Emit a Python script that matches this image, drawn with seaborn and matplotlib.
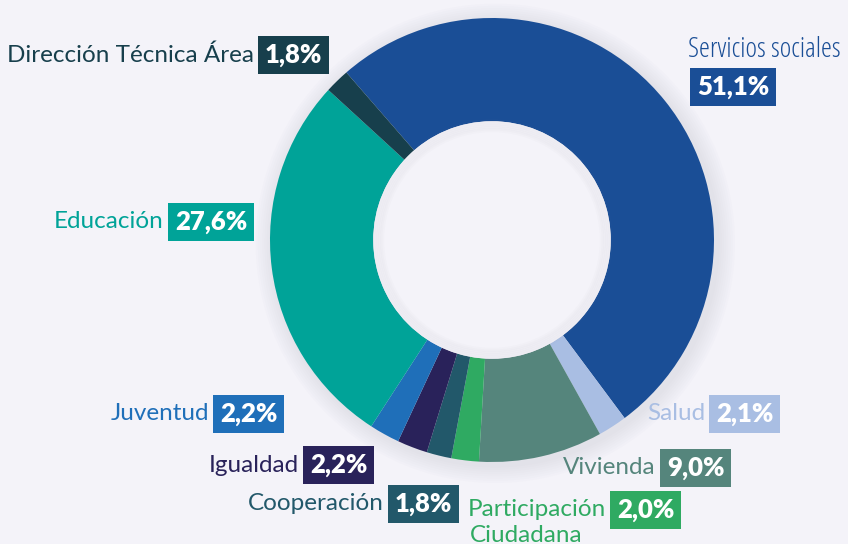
import numpy as np
import matplotlib.pyplot as plt
import seaborn as sns
from matplotlib.patches import Circle

sns.set_theme(style="white")
plt.rcParams["font.family"] = ["Lato", "DejaVu Sans"]

# datos (orden horario desde Servicios sociales)
areas = ["Servicios sociales", "Salud", "Vivienda", "Participación\nCiudadana",
         "Cooperación", "Igualdad", "Juventud", "Educación", "Dirección Técnica Área"]
shares = [51.1, 2.1, 9.0, 2.0, 1.8, 2.2, 2.2, 27.6, 1.8]
pct_labels = ["51,1%", "2,1%", "9,0%", "2,0%", "1,8%", "2,2%", "2,2%", "27,6%", "1,8%"]
colors = ["#1a4e96", "#a9bee3", "#55857c", "#2faa62", "#22586a",
          "#29225a", "#1f6fb9", "#00a398", "#173f4c"]

# posiciones de etiquetas en pixeles: (borde izq. de la caja, y centro)
label_pos = [(690, 87), (709, 414), (660, 468), (610, 510),
             (388, 504), (303, 465), (213, 414), (168, 222), (258, 55)]

W, H = 848, 544
bg = "#f4f3f9"
fig = plt.figure(figsize=(W / 100, H / 100), dpi=100, facecolor=bg)
ax = fig.add_axes([0, 0, 1, 1])
ax.set_facecolor(bg)

R = 222.0
cx, cy = 492, 240

# sombra suave
for i in range(8):
    ax.add_patch(Circle((0.015, -0.015), 1.0 + 0.01 * (i + 1), color="#8a8aa0",
                        alpha=0.018, lw=0, zorder=0))

ax.pie(shares, colors=sns.color_palette(colors), startangle=131, counterclock=False,
       radius=1.0, wedgeprops=dict(width=0.465, edgecolor="none"))

# hueco y sombra interior
ax.add_patch(Circle((0, 0), 0.535, color=bg, lw=0, zorder=2))
for i in range(6):
    ax.add_patch(Circle((0, 0), 0.535 - 0.008 * i, fill=False, lw=3,
                        ec="#8a8aa0", alpha=0.025, zorder=3))

ax.set_xlim(-cx / R, (W - cx) / R)
ax.set_ylim(-(H - cy) / R, cy / R)
ax.set_aspect("equal")
ax.axis("off")


def fxy(x, y):
    return x / W, 1 - y / H


fs = 17.5
pfs = 18.5
box = dict(boxstyle="square,pad=0.27", ec="none")
for name, pct, col, (bx, by) in zip(areas, pct_labels, colors, label_pos):
    if name.startswith("Servicios"):
        fig.text(*fxy(688, 50), name, color=col, fontsize=20, ha="left", va="center",
                 family=["Open Sans", "DejaVu Sans"], stretch="condensed")
    elif "\n" in name:
        first, second = name.split("\n")
        fig.text(*fxy(bx - 4, by), first, color=col, fontsize=fs, ha="right", va="center")
        fig.text(*fxy(470, by + 25), second, color=col, fontsize=fs, ha="left", va="center")
    else:
        fig.text(*fxy(bx - 4, by), name, color=col, fontsize=fs, ha="right", va="center")
    fig.text(*fxy(bx + 7, by), pct, color="white", fontsize=pfs, fontweight="heavy",
             ha="left", va="center", bbox=dict(box, fc=col))

fig.savefig("out.png", dpi=100, facecolor=bg)
